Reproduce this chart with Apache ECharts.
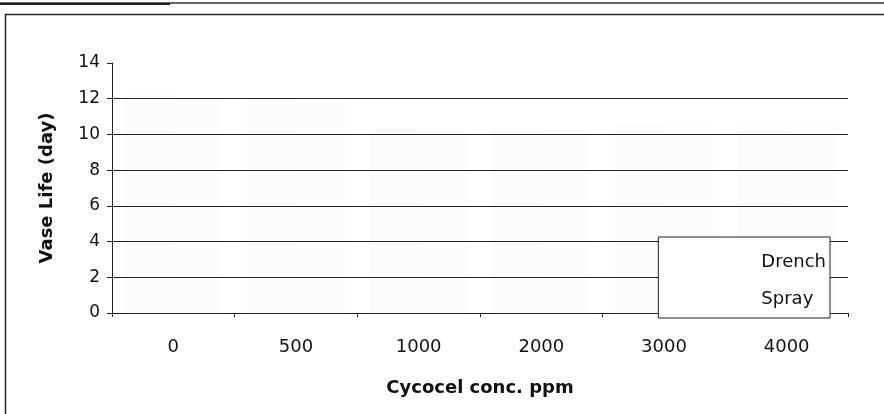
<!DOCTYPE html>
<html>
<head>
<meta charset="utf-8">
<script src="https://cdn.jsdelivr.net/npm/echarts@6/dist/echarts.min.js"></script>
<style>html,body{margin:0;padding:0;background:#fff;}#c{width:884px;height:414px;}</style>
</head>
<body>
<div id="c"></div>
<script>
var categories = ['0', '500', '1000', '2000', '3000', '4000'];
var drench = [12.2, 12, 10.3, 10.2, 10.5, 10.4];
var spray = [12, 11.8, 10.2, 10.3, 10.4, 10.5];
var yTicks = [0, 2, 4, 6, 8, 10, 12, 14];

var chart = echarts.init(document.getElementById('c'), null, {renderer: 'canvas'});
var font = 'DejaVu Sans';
chart.setOption({
  animation: false,
  backgroundColor: '#ffffff',
  grid: {left: 112, right: 36, top: 63, bottom: 101},
  legend: {
    orient: 'vertical',
    right: 54,
    top: 237,
    data: ['Drench', 'Spray'],
    itemWidth: 14,
    itemHeight: 18,
    itemGap: 19,
    padding: [16, 4, 10, 84],
    borderColor: '#222',
    borderWidth: 1,
    backgroundColor: '#fff',
    itemStyle: {opacity: 0},
    textStyle: {fontFamily: font, fontSize: 18, color: '#111'}
  },
  xAxis: {
    type: 'category',
    data: categories,
    name: 'Cycocel conc. ppm',
    nameLocation: 'middle',
    nameGap: 66,
    nameTextStyle: {fontFamily: font, fontSize: 18, fontWeight: 'bold', color: '#111'},
    axisLine: {lineStyle: {color: '#222', width: 1}},
    axisTick: {show: true, inside: false, length: 4, alignWithLabel: false, lineStyle: {color: '#222'}},
    axisLabel: {fontFamily: font, fontSize: 18, color: '#111', margin: 25},
    splitLine: {show: false}
  },
  yAxis: {
    type: 'value',
    min: 0,
    max: 14,
    interval: 2,
    name: 'Vase Life (day)',
    nameLocation: 'middle',
    nameGap: 56,
    nameTextStyle: {fontFamily: font, fontSize: 18, fontWeight: 'bold', color: '#111'},
    axisLine: {show: true, lineStyle: {color: '#222', width: 1}},
    axisTick: {show: true, length: 5, lineStyle: {color: '#222'}},
    axisLabel: {fontFamily: font, fontSize: 17, color: '#111', margin: 12},
    splitLine: {show: true, lineStyle: {color: ['#222', '#222', '#222', '#222', '#222', '#222', '#222', 'rgba(0,0,0,0)'], width: 1.2}}
  },
  series: [
    {name: 'Drench', type: 'bar', data: drench, barGap: '0%', barCategoryGap: '20%', itemStyle: {color: 'rgba(0,0,0,0.015)'}},
    {name: 'Spray', type: 'bar', data: spray, itemStyle: {color: 'rgba(0,0,0,0.01)'}}
  ],
  graphic: [
    {type: 'rect', shape: {x: 5.5, y: 14.5, width: 900, height: 420}, style: {fill: 'none', stroke: '#222', lineWidth: 1.5}, silent: true},
    {type: 'line', shape: {x1: 0, y1: 3, x2: 884, y2: 3}, style: {stroke: '#333', lineWidth: 1.5}, silent: true},
    {type: 'line', shape: {x1: 0, y1: 4, x2: 170, y2: 4}, style: {stroke: '#222', lineWidth: 2}, silent: true}
  ]
});
</script>
</body>
</html>
